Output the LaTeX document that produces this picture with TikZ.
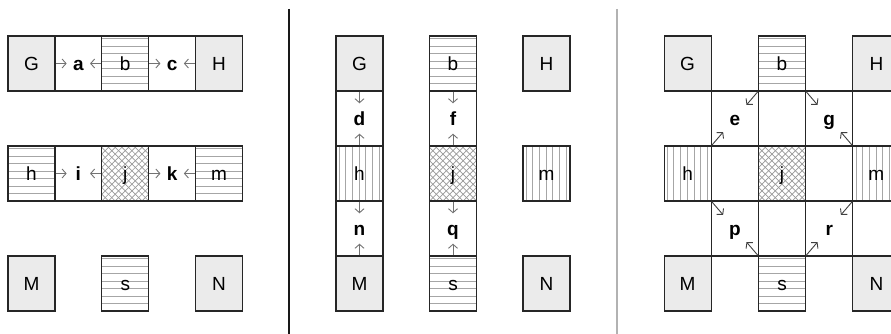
\documentclass[tikz,border=0pt]{standalone}
\usepackage{fontspec}
\setmainfont{Liberation Sans}
\usetikzlibrary{arrows.meta}
\begin{document}
\begin{tikzpicture}[x=1pt,y=-1pt,
 stripe/.style={draw=black!35, line width=0.8pt},
 hatch/.style={draw=black!40, line width=0.7pt},
 cell/.style={draw=black!85, line width=1.1pt, minimum width=47pt, minimum height=55pt, inner sep=0pt, font=\fontsize{19}{21}\selectfont, text height=13.5pt, text depth=0pt},
 gcell/.style={cell, fill=black!8},
 hcell/.style={cell, fill=white, path picture={\foreach \k in {0,...,7} \draw[stripe] ([yshift=-2.5pt-\k*7.5pt]path picture bounding box.north west) -- ([yshift=-2.5pt-\k*7.5pt]path picture bounding box.north east);}},
 vcell/.style={cell, fill=white, path picture={\foreach \k in {0,...,6} \draw[stripe] ([xshift=3pt+\k*6.7pt]path picture bounding box.north west) -- ([xshift=3pt+\k*6.7pt]path picture bounding box.south west);}},
 xcell/.style={cell, fill=white, path picture={\foreach \k in {-9,...,8} {\draw[hatch] ([xshift=\k*6.7pt]path picture bounding box.south west) -- ++(60pt,60pt); \draw[hatch] ([xshift=\k*6.7pt]path picture bounding box.south east) -- ++(-60pt,60pt);}}},
 lab/.style={font=\bfseries\fontsize{19}{21}\selectfont, minimum width=23pt, minimum height=30pt, inner sep=0pt, text height=13.5pt, text depth=0pt},
 arr/.style={draw=black!55, line width=0.9pt, -{Straight Barb[length=4pt,width=9pt]}},
 arrd/.style={arr, draw=black!75}
]
\useasboundingbox (0,0) rectangle (891,334);
\clip (0,0) rectangle (891,334);

% separators
\draw[line width=1.3pt, black!90] (289,9) -- (289,334);
\draw[line width=1.6pt, black!30] (617,9) -- (617,334);

% ---------- panel 1 ----------
\node[gcell] (G1) at (31.45,63.5) {G};
\node[cell]  (A1) at (78.35,63.5) {};
\node[hcell] (B1) at (125.25,63.5) {b};
\node[cell]  (C1) at (172.15,63.5) {};
\node[gcell] (H1) at (219.05,63.5) {H};
\node[lab] (la) at (A1) {a};
\node[lab] (lc) at (C1) {c};
\draw[arr] (G1.east) -- (la.west);
\draw[arr] (B1.west) -- (la.east);
\draw[arr] (B1.east) -- (lc.west);
\draw[arr] (H1.west) -- (lc.east);

\node[hcell] (h1) at (31.45,173.5) {h};
\node[cell]  (I1) at (78.35,173.5) {};
\node[xcell] (J1) at (125.25,173.5) {j};
\node[cell]  (K1) at (172.15,173.5) {};
\node[hcell] (m1) at (219.05,173.5) {m};
\node[lab] (li) at (I1) {i};
\node[lab] (lk) at (K1) {k};
\draw[arr] (h1.east) -- (li.west);
\draw[arr] (J1.west) -- (li.east);
\draw[arr] (J1.east) -- (lk.west);
\draw[arr] (m1.west) -- (lk.east);

\node[gcell] (M1) at (31.45,283.5) {M};
\node[hcell] (S1) at (125.25,283.5) {s};
\node[gcell] (N1) at (219.05,283.5) {N};

% ---------- panel 2 ----------
\node[gcell] (G2) at (359.5,63.5) {G};
\node[cell]  (D2) at (359.5,118.5) {};
\node[vcell] (h2) at (359.5,173.5) {h};
\node[cell]  (n2) at (359.5,228.5) {};
\node[gcell] (M2) at (359.5,283.5) {M};
\node[lab] (ld) at (D2) {d};
\node[lab] (ln) at (n2) {n};
\draw[arr] (G2.south) -- (ld.north);
\draw[arr] (h2.north) -- (ld.south);
\draw[arr] (h2.south) -- (ln.north);
\draw[arr] (M2.north) -- (ln.south);

\node[hcell] (B2) at (453,63.5) {b};
\node[cell]  (F2) at (453,118.5) {};
\node[xcell] (J2) at (453,173.5) {j};
\node[cell]  (Q2) at (453,228.5) {};
\node[hcell] (S2) at (453,283.5) {s};
\node[lab] (lf) at (F2) {f};
\node[lab] (lq) at (Q2) {q};
\draw[arr] (B2.south) -- (lf.north);
\draw[arr] (J2.north) -- (lf.south);
\draw[arr] (J2.south) -- (lq.north);
\draw[arr] (S2.north) -- (lq.south);

\node[gcell] (H2) at (546.5,63.5) {H};
\node[vcell] (m2) at (546.5,173.5) {m};
\node[gcell] (N2) at (546.5,283.5) {N};

% ---------- panel 3 ----------
\node[gcell] (G3) at (687.6,63.5) {G};
\node[hcell] (B3) at (782,63.5) {b};
\node[gcell] (H3) at (876.4,63.5) {H};

\node[cell] (E3) at (734.8,118.5) {};
\node[cell] (W1) at (782,118.5) {};
\node[cell] (Gg3) at (829.2,118.5) {};

\node[vcell] (h3) at (687.6,173.5) {h};
\node[cell]  (W2) at (734.8,173.5) {};
\node[xcell] (J3) at (782,173.5) {j};
\node[cell]  (W3) at (829.2,173.5) {};
\node[vcell] (m3) at (876.4,173.5) {m};

\node[cell] (P3) at (734.8,228.5) {};
\node[cell] (W4) at (782,228.5) {};
\node[cell] (R3) at (829.2,228.5) {};

\node[gcell] (M3) at (687.6,283.5) {M};
\node[hcell] (S3) at (782,283.5) {s};
\node[gcell] (N3) at (876.4,283.5) {N};

\node[lab] (le) at (E3) {e};
\node[lab] (lg) at (Gg3) {g};
\node[lab] (lp) at (P3) {p};
\node[lab] (lr) at (R3) {r};
\draw[arrd] (B3.south west) -- (le);
\draw[arrd] (h3.north east) -- (le);
\draw[arrd] (B3.south east) -- (lg);
\draw[arrd] (m3.north west) -- (lg);
\draw[arrd] (h3.south east) -- (lp);
\draw[arrd] (S3.north west) -- (lp);
\draw[arrd] (m3.south west) -- (lr);
\draw[arrd] (S3.north east) -- (lr);
\end{tikzpicture}
\end{document}
